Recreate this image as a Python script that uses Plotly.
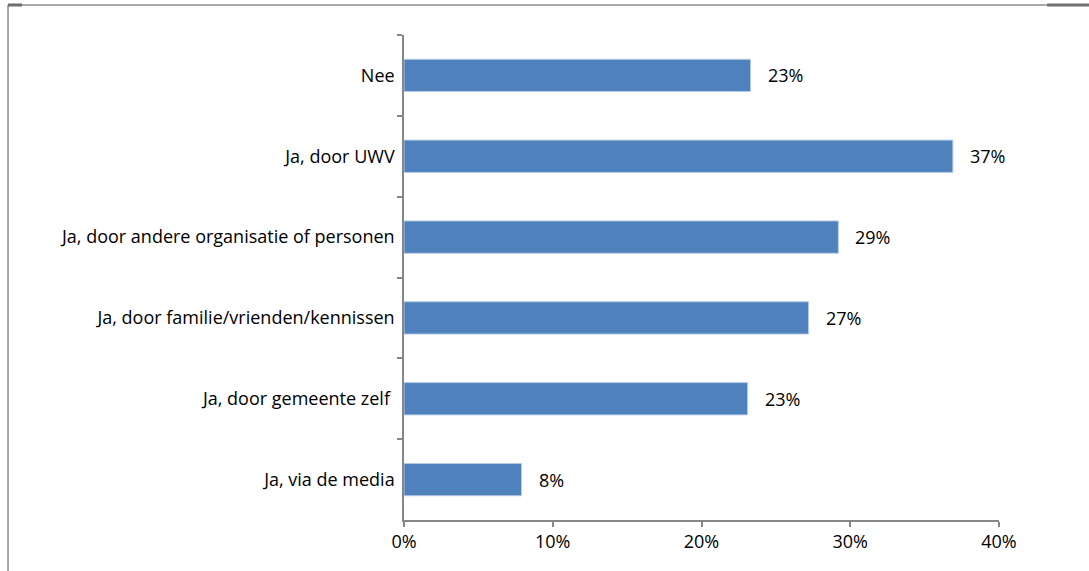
import plotly.graph_objects as go

# answers, top to bottom as in the chart
categories = [
    "Nee",
    "Ja, door UWV",
    "Ja, door andere organisatie of personen",
    "Ja, door familie/vrienden/kennissen",
    "Ja, door gemeente zelf ",
    "Ja, via de media",
]
shares = [23.3, 36.9, 29.2, 27.2, 23.1, 7.9]
share_labels = ["23%", "37%", "29%", "27%", "23%", "8%"]
x_ticks = [0, 10, 20, 30, 40]
x_tick_labels = ["0%", "10%", "20%", "30%", "40%"]

AXIS_GREY = "#868686"
BAR_BLUE = "#4F81BD"
FONT = dict(family="Open Sans, Noto Sans, sans-serif", size=18, color="#000000")

fig = go.Figure(
    go.Bar(
        x=shares,
        y=categories,
        orientation="h",
        marker=dict(color=BAR_BLUE, line=dict(color="#B9CDE5", width=1)),
        width=0.4,
        hoverinfo="skip",
    )
)

# value labels a bit to the right of each bar end
for cat, val, lab in zip(categories, shares, share_labels):
    fig.add_annotation(
        x=val, y=cat, text=lab, showarrow=False,
        xanchor="left", xshift=15, font=FONT,
    )

# grey frame lines (top and left edge of the cropped chart box)
frame = dict(color="#8C8C8C", width=1.5)
fig.add_shape(type="line", xref="paper", yref="paper",
              x0=-0.6655, x1=1.152, y0=1.0619, y1=1.0619, line=frame)
fig.add_shape(type="line", xref="paper", yref="paper",
              x0=-0.6655, x1=-0.6655, y0=1.0619, y1=-0.11, line=frame)
fig.add_shape(type="line", xref="paper", yref="paper",
              x0=-0.6655, x1=-0.642, y0=1.0619, y1=1.0619,
              line=dict(color="#6E6E6E", width=3))
fig.add_shape(type="line", xref="paper", yref="paper",
              x0=1.081, x1=1.152, y0=1.0619, y1=1.0619,
              line=dict(color="#6E6E6E", width=3))

fig.update_layout(
    width=1089,
    height=571,
    margin=dict(l=404, r=90, t=35, b=51),
    paper_bgcolor="#FFFFFF",
    plot_bgcolor="#FFFFFF",
    font=FONT,
    showlegend=False,
)

fig.update_xaxes(
    range=[0, 40],
    tickvals=x_ticks,
    ticktext=x_tick_labels,
    showgrid=False,
    zeroline=False,
    showline=True,
    linecolor=AXIS_GREY,
    linewidth=1.5,
    ticks="outside",
    ticklen=5,
    tickcolor=AXIS_GREY,
    tickwidth=1.5,
    tickfont=FONT,
)
fig.update_yaxes(
    categoryorder="array",
    categoryarray=categories,
    autorange="reversed",
    tickson="boundaries",
    showgrid=False,
    showline=True,
    linecolor=AXIS_GREY,
    linewidth=1.5,
    ticks="outside",
    ticklen=5,
    tickcolor=AXIS_GREY,
    tickwidth=1.5,
    ticklabelstandoff=4,
    tickfont=FONT,
)

# drop the default page margin so the figure sits at the window's corner
fig.write_html(
    "out.html",
    config={"displayModeBar": False},
    post_script="document.body.style.margin='0';",
)
